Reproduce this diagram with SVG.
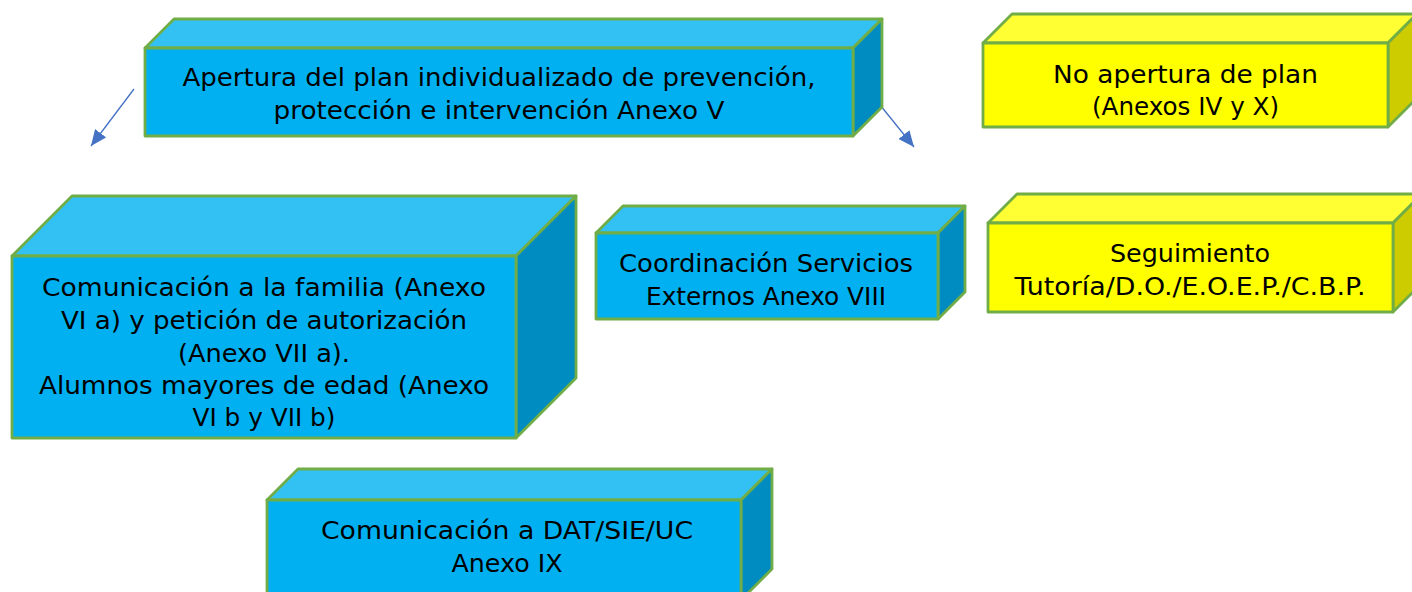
<svg xmlns="http://www.w3.org/2000/svg" width="1412" height="592" viewBox="0 0 1412 592">
<style>
.b{stroke:#70AD47;stroke-width:2.8;stroke-linejoin:round}
.bf{fill:#00B0F0}.bt{fill:#33C1F3}.bs{fill:#008CC0}
.yf{fill:#FFFF00}.yt{fill:#FFFF33}.ys{fill:#CCCC00}
text{font-family:"DejaVu Sans","Liberation Sans",sans-serif;font-size:24px;fill:#000;text-anchor:middle}
.c{stroke:#4472C4;stroke-width:1.3;fill:none}
</style>
<defs>
<marker id="ah" markerUnits="userSpaceOnUse" markerWidth="18" markerHeight="14" refX="16" refY="7" orient="auto">
<path d="M0,0 L16,7 L0,14 Z" fill="#4472C4"/>
</marker>
</defs>
<rect width="1412" height="592" fill="#fff"/>
<g id="connectors">
<line class="c" x1="134" y1="89" x2="91" y2="146" marker-end="url(#ah)"/>
<line class="c" x1="868" y1="90" x2="914" y2="147" marker-end="url(#ah)"/>
</g>
<g id="apertura">
<polygon class="b bt" points="145,48 174,19 882,19 853,48"/>
<polygon class="b bs" points="853,48 882,19 882,107 853,136"/>
<rect class="b bf" x="145" y="48" width="708" height="88"/>
<text x="499" y="86" textLength="633" lengthAdjust="spacingAndGlyphs">Apertura del plan individualizado de prevención,</text>
<text x="499" y="119" textLength="451" lengthAdjust="spacingAndGlyphs">protección e intervención Anexo V</text>
</g>
<g id="no-apertura">
<polygon class="b yt" points="983,43 1012,14 1417,14 1388,43"/>
<polygon class="b ys" points="1388,43 1417,14 1417,98 1388,127"/>
<rect class="b yf" x="983" y="43" width="405" height="84"/>
<text x="1185.5" y="83" textLength="265" lengthAdjust="spacingAndGlyphs">No apertura de plan</text>
<text x="1185.5" y="115" textLength="187" lengthAdjust="spacingAndGlyphs">(Anexos IV y X)</text>
</g>
<g id="familia">
<polygon class="b bt" points="12,256 72,196 576,196 516,256"/>
<polygon class="b bs" points="516,256 576,196 576,378 516,438"/>
<rect class="b bf" x="12" y="256" width="504" height="182"/>
<text x="264" y="296" textLength="444" lengthAdjust="spacingAndGlyphs">Comunicación a la familia (Anexo</text>
<text x="264" y="329" textLength="406" lengthAdjust="spacingAndGlyphs">VI a) y petición de autorización</text>
<text x="264" y="362" textLength="172" lengthAdjust="spacingAndGlyphs">(Anexo VII a).</text>
<text x="264" y="394" textLength="450" lengthAdjust="spacingAndGlyphs">Alumnos mayores de edad (Anexo</text>
<text x="264" y="426" textLength="143" lengthAdjust="spacingAndGlyphs">VI b y VII b)</text>
</g>
<g id="coordinacion">
<polygon class="b bt" points="596,233 623,206 965,206 938,233"/>
<polygon class="b bs" points="938,233 965,206 965,292 938,319"/>
<rect class="b bf" x="596" y="233" width="342" height="86"/>
<text x="766" y="272" textLength="294" lengthAdjust="spacingAndGlyphs">Coordinación Servicios</text>
<text x="766" y="305" textLength="240" lengthAdjust="spacingAndGlyphs">Externos Anexo VIII</text>
</g>
<g id="seguimiento">
<polygon class="b yt" points="988,223 1017,194 1422,194 1393,223"/>
<polygon class="b ys" points="1393,223 1422,194 1422,283 1393,312"/>
<rect class="b yf" x="988" y="223" width="405" height="89"/>
<text x="1190" y="262" textLength="160" lengthAdjust="spacingAndGlyphs">Seguimiento</text>
<text x="1190" y="295" textLength="351" lengthAdjust="spacingAndGlyphs">Tutoría/D.O./E.O.E.P./C.B.P.</text>
</g>
<g id="dat">
<polygon class="b bt" points="267,500 298,469 772,469 741,500"/>
<polygon class="b bs" points="741,500 772,469 772,569 741,600"/>
<rect class="b bf" x="267" y="500" width="474" height="100"/>
<text x="507" y="539" textLength="372" lengthAdjust="spacingAndGlyphs">Comunicación a DAT/SIE/UC</text>
<text x="507" y="572" textLength="111" lengthAdjust="spacingAndGlyphs">Anexo IX</text>
</g>
</svg>
